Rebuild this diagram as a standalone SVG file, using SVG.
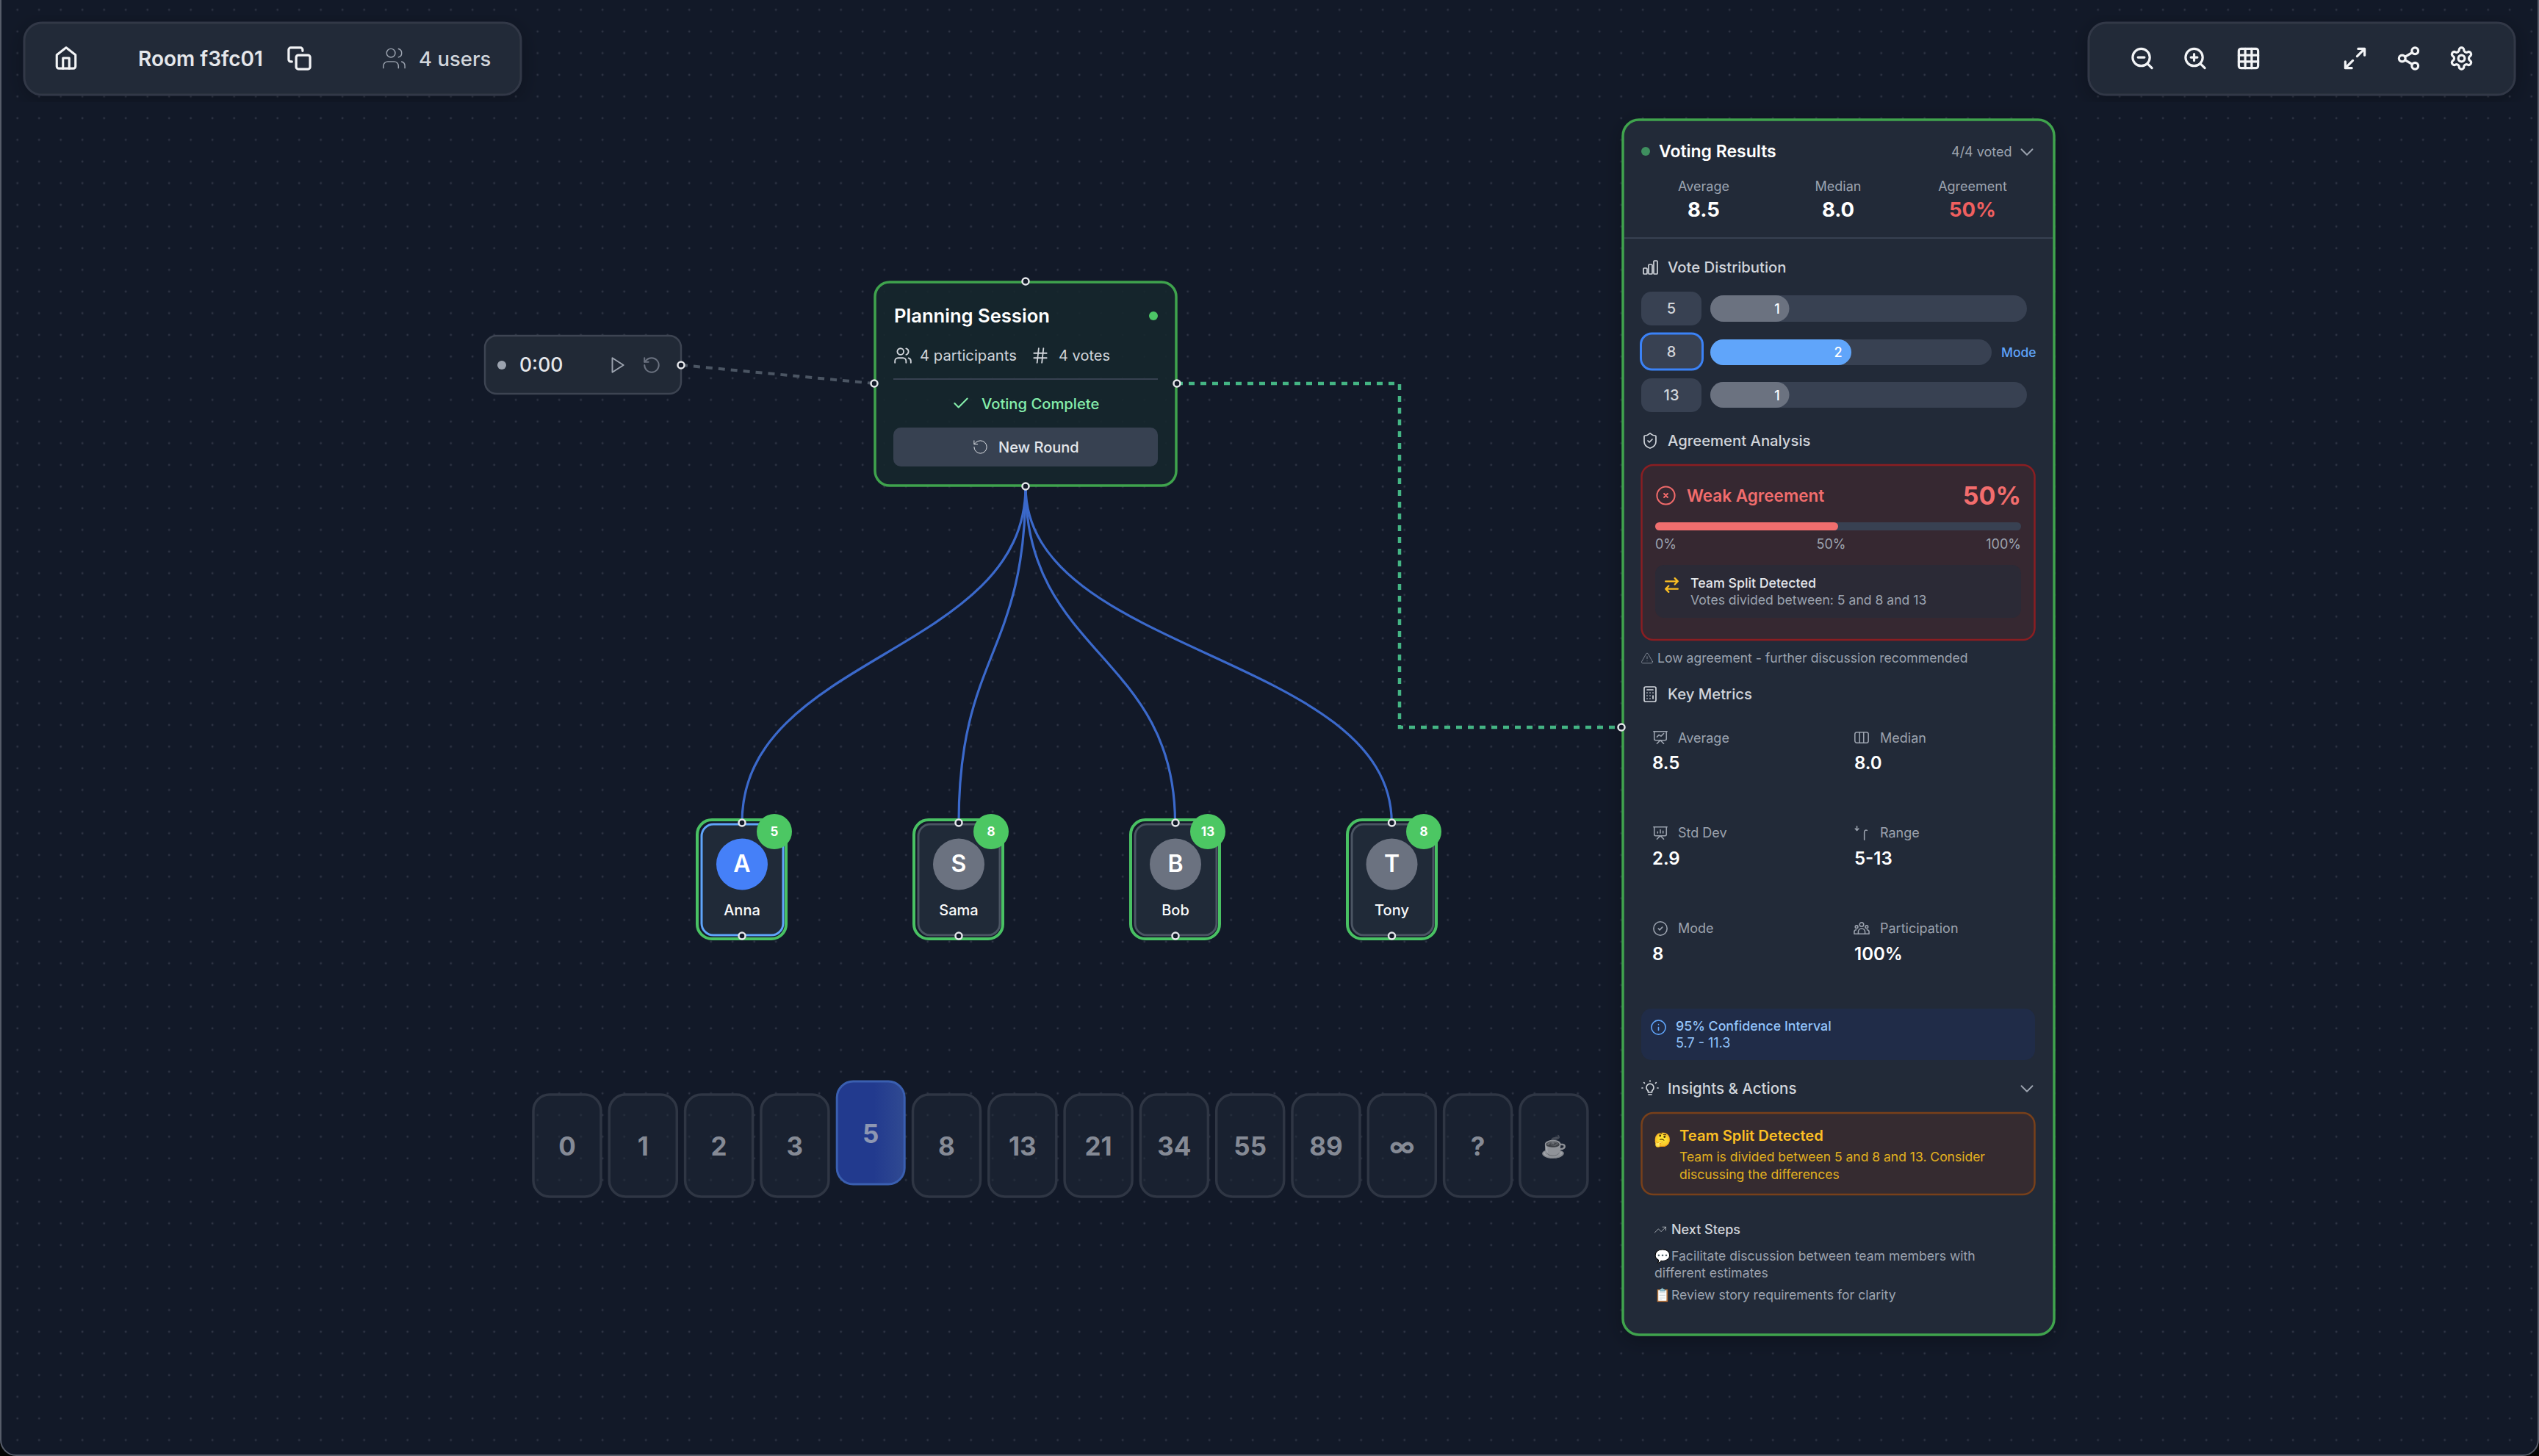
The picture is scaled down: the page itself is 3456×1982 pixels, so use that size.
<svg xmlns="http://www.w3.org/2000/svg" width="3456" height="1982" viewBox="0 0 3456 1982">
<defs>
<style>
text{font-family:Inter,"Liberation Sans",sans-serif;white-space:pre}
.ic{fill:none;stroke-linecap:round;stroke-linejoin:round}
.w{stroke:#f3f4f6;stroke-width:2.200}.g{stroke:#9ca3af}.l{stroke:#d1d5db}
.h{fill:#121928;stroke:#e5e7eb;stroke-width:2.500}
.bar{fill:#384152}
.lab{font-size:18px;fill:#9ca3af}
.lng{font-size:17.600px;fill:#9ca3af}
.sec{font-size:20.300px;font-weight:500;fill:#d1d5db}
.val{font-size:24px;font-weight:600;fill:#fff}
.card{fill:#1f2937;fill-opacity:.5;stroke:#2f3644;stroke-width:3.500}
.cardt{font-size:35px;font-weight:700;fill:#858a95;text-anchor:middle}
.pout{fill:#121928;stroke:#49c163;stroke-width:4}
.pin{fill:#202a38;stroke:#4b5563;stroke-width:3}
.pname{font-size:20px;font-weight:500;fill:#f9fafb;text-anchor:middle}
.pl{font-size:32px;font-weight:600;fill:#fff;text-anchor:middle}
.bd{font-size:17px;font-weight:700;fill:#fff;text-anchor:middle}
.blue{fill:none;stroke:#3b69cb;stroke-width:3.200}
</style>
<pattern id="dots" patternUnits="userSpaceOnUse" x="8.95" y="-1.35" width="29.5" height="29.5"><circle cx="14.75" cy="14.75" r="1.4" fill="#2e3444"/></pattern>
<filter id="sh" x="-10%" y="-10%" width="120%" height="120%"><feDropShadow dx="0" dy="6" stdDeviation="14" flood-color="#000" flood-opacity=".25"/></filter>
<linearGradient id="sel" x1="0" y1="0" x2="1" y2="0"><stop offset="0" stop-color="#223a8e"/><stop offset=".55" stop-color="#223a8e"/><stop offset="1" stop-color="#304a92"/></linearGradient>
<symbol id="home" viewBox="0 0 24 24"><path d="M3 9l9-7 9 7v11a2 2 0 0 1-2 2H5a2 2 0 0 1-2-2z"/><path d="M9 22V12h6v10"/></symbol>
<symbol id="copy" viewBox="0 0 24 24"><rect x="9" y="9" width="13" height="13" rx="2"/><path d="M5 15H4a2 2 0 0 1-2-2V4a2 2 0 0 1 2-2h9a2 2 0 0 1 2 2v1"/></symbol>
<symbol id="users" viewBox="0 0 24 24"><path d="M16 21v-2a4 4 0 0 0-4-4H6a4 4 0 0 0-4 4v2"/><circle cx="9" cy="7" r="4"/><path d="M22 21v-2a4 4 0 0 0-3-3.87"/><path d="M16 3.13a4 4 0 0 1 0 7.75"/></symbol>
<symbol id="zo" viewBox="0 0 24 24"><circle cx="11" cy="11" r="8"/><path d="M21 21l-4.35-4.35M8 11h6"/></symbol>
<symbol id="zi" viewBox="0 0 24 24"><circle cx="11" cy="11" r="8"/><path d="M21 21l-4.35-4.35M8 11h6M11 8v6"/></symbol>
<symbol id="grid" viewBox="0 0 24 24"><rect x="3" y="3" width="18" height="18" rx="2"/><path d="M3 9h18M3 15h18M9 3v18M15 3v18"/></symbol>
<symbol id="max" viewBox="0 0 24 24"><path d="M15 3h6v6M9 21H3v-6M21 3l-7 7M3 21l7-7"/></symbol>
<symbol id="share" viewBox="0 0 24 24"><circle cx="18" cy="5" r="3"/><circle cx="6" cy="12" r="3"/><circle cx="18" cy="19" r="3"/><path d="M8.59 13.51l6.83 3.98M15.41 6.51l-6.82 3.98"/></symbol>
<symbol id="gear" viewBox="0 0 24 24"><path d="M12.22 2h-.44a2 2 0 0 0-2 2v.18a2 2 0 0 1-1 1.73l-.43.25a2 2 0 0 1-2 0l-.15-.08a2 2 0 0 0-2.73.73l-.22.38a2 2 0 0 0 .73 2.73l.15.1a2 2 0 0 1 1 1.72v.51a2 2 0 0 1-1 1.74l-.15.09a2 2 0 0 0-.73 2.73l.22.38a2 2 0 0 0 2.73.73l.15-.08a2 2 0 0 1 2 0l.43.25a2 2 0 0 1 1 1.73V20a2 2 0 0 0 2 2h.44a2 2 0 0 0 2-2v-.18a2 2 0 0 1 1-1.73l.43-.25a2 2 0 0 1 2 0l.15.08a2 2 0 0 0 2.73-.73l.22-.39a2 2 0 0 0-.73-2.73l-.15-.08a2 2 0 0 1-1-1.74v-.5a2 2 0 0 1 1-1.74l.15-.09a2 2 0 0 0 .73-2.73l-.22-.38a2 2 0 0 0-2.73-.73l-.15.08a2 2 0 0 1-2 0l-.43-.25a2 2 0 0 1-1-1.73V4a2 2 0 0 0-2-2z"/><circle cx="12" cy="12" r="3"/></symbol>
<symbol id="play" viewBox="0 0 24 24"><path d="M6 3l14 9-14 9z"/></symbol>
<symbol id="reset" viewBox="0 0 24 24"><path d="M3 12a9 9 0 1 0 9-9 9.75 9.75 0 0 0-6.74 2.74L3 8"/><path d="M3 3v5h5"/></symbol>
<symbol id="hash" viewBox="0 0 24 24"><path d="M4 9h16M4 15h16M10 3L8 21M16 3l-2 18"/></symbol>
<symbol id="check" viewBox="0 0 24 24"><path d="M20 6L9 17l-5-5"/></symbol>
<symbol id="chev" viewBox="0 0 24 24"><path d="M6 9l6 6 6-6"/></symbol>
<symbol id="bars" viewBox="0 0 24 24"><rect x="3" y="13" width="5" height="8" rx="1"/><rect x="10" y="8" width="5" height="13" rx="1"/><rect x="17" y="3" width="5" height="18" rx="1"/></symbol>
<symbol id="shield" viewBox="0 0 24 24"><path d="M20 13c0 5-3.5 7.5-7.66 8.95a1 1 0 0 1-.67-.01C7.5 20.5 4 18 4 13V6a1 1 0 0 1 1-1c2 0 4.5-1.2 6.24-2.72a1.17 1.17 0 0 1 1.52 0C14.51 3.81 17 5 19 5a1 1 0 0 1 1 1z"/><path d="M9 12l2 2 4-4"/></symbol>
<symbol id="cx" viewBox="0 0 24 24"><circle cx="12" cy="12" r="10"/><path d="M14 10l-4 4M10 10l4 4"/></symbol>
<symbol id="swap" viewBox="0 0 24 24"><path d="M16 3l4 4-4 4M20 7H4M8 21l-4-4 4-4M4 17h16"/></symbol>
<symbol id="warn" viewBox="0 0 24 24"><path d="M21.73 18l-8-14a2 2 0 0 0-3.48 0l-8 14A2 2 0 0 0 4 21h16a2 2 0 0 0 1.73-3z"/><path d="M12 9v4M12 17h.01"/></symbol>
<symbol id="calc" viewBox="0 0 24 24"><rect x="4" y="2" width="16" height="20" rx="2"/><path d="M8 6h8M16 14v4M16 10h.01M12 10h.01M8 10h.01M12 14h.01M8 14h.01M12 18h.01M8 18h.01"/></symbol>
<symbol id="pres1" viewBox="0 0 24 24"><path d="M2 3h20M21 3v11a2 2 0 0 1-2 2H5a2 2 0 0 1-2-2V3M7 21l5-5 5 5M7 11l3-3 3 2 4-4"/></symbol>
<symbol id="pres2" viewBox="0 0 24 24"><path d="M2 3h20M21 3v11a2 2 0 0 1-2 2H5a2 2 0 0 1-2-2V3M7 21l5-5 5 5M8 12v-2M12 12V7M16 12V9"/></symbol>
<symbol id="cols" viewBox="0 0 24 24"><rect x="2" y="4" width="20" height="16" rx="3"/><path d="M9 4v16M15 4v16"/></symbol>
<symbol id="rng" viewBox="0 0 24 24"><path d="M5 2v6M2.500 5.500L5 8l2.500-2.500M20 8c-2-1-4 0-4 3v11"/></symbol>
<symbol id="cc" viewBox="0 0 24 24"><circle cx="12" cy="12" r="10"/><path d="M9 12l2 2 4-4"/></symbol>
<symbol id="group" viewBox="0 0 24 24"><circle cx="12" cy="6" r="3"/><circle cx="4.500" cy="9.500" r="2"/><circle cx="19.500" cy="9.500" r="2"/><path d="M7 20v-3a5 5 0 0 1 10 0v3M1 20v-3a3 3 0 0 1 3-3M23 20v-3a3 3 0 0 0-3-3M1 20h22"/></symbol>
<symbol id="info" viewBox="0 0 24 24"><circle cx="12" cy="12" r="10"/><path d="M12 16v-4M12 8h.01"/></symbol>
<symbol id="bulb" viewBox="0 0 24 24"><path d="M8.500 14a5 5 0 1 1 7 0c-.7.6-1 1.300-1 2v1h-5v-1c0-.7-.3-1.400-1-2zM10 20h4M12 2V1M4.500 4.500l-.8-.8M19.500 4.500l.8-.8M2 11H1M23 11h-1"/></symbol>
<symbol id="trend" viewBox="0 0 24 24"><path d="M22 7l-8.500 8.500-5-5L2 17M16 7h6v6"/></symbol>
</defs>

<rect width="3456" height="1982" fill="#030504"/>
<path d="M0 0H3456V1960a22 22 0 0 1-22 22H22a22 22 0 0 1-22-22Z" fill="#121928"/>
<rect width="3456" height="1982" fill="url(#dots)"/>
<path d="M1 0V1960a21 21 0 0 0 21 21H3434a21 21 0 0 0 21-21V0" fill="none" stroke="#565c69" stroke-width="2"/>

<g id="connectors">
<path id="edge-timer" d="M927 497L1190 522" fill="none" stroke="#4b5563" stroke-width="4" stroke-dasharray="9 8"/>
<path id="edge-results" d="M1602 522H1905V990H2207" fill="none" stroke="#44b584" stroke-width="4.500" stroke-dasharray="8 8"/>
<path id="edge-anna" class="blue" d="M1396 662C1396 891 1010 891 1010 1120"/>
<path id="edge-sama" class="blue" d="M1396 662C1396 891 1305 891 1305 1120"/>
<path id="edge-bob" class="blue" d="M1396 662C1396 891 1599.500 891 1599.500 1120"/>
<path id="edge-tony" class="blue" d="M1396 662C1396 891 1894.300 891 1894.300 1120"/>
</g>

<g id="room-bar">
<rect x="33" y="31" width="676" height="98" rx="24" fill="#222937" stroke="#313846" stroke-width="3" filter="url(#sh)"/>
<use href="#home" class="ic w" x="73" y="62" width="34" height="34"/>
<text x="188" y="90" font-size="28" font-weight="600" fill="#e5e7eb">Room f3fc01</text>
<use href="#copy" class="ic w" x="390" y="62" width="35" height="35"/>
<use href="#users" class="ic g" x="519" y="62" width="35" height="35"/>
<text x="570" y="90" font-size="27.500" font-weight="500" fill="#d1d5db">4 users</text>
</g>

<g id="toolbar">
<rect x="2843" y="31" width="580" height="98" rx="24" fill="#222937" stroke="#313846" stroke-width="3" filter="url(#sh)"/>
<use href="#zo" class="ic w" x="2898.500" y="62" width="35" height="35"/>
<use href="#zi" class="ic w" x="2970.500" y="62" width="35" height="35"/>
<use href="#grid" class="ic w" x="3043" y="62" width="35" height="35"/>
<use href="#max" class="ic w" x="3188" y="62" width="35" height="35"/>
<use href="#share" class="ic w" x="3261" y="62" width="35" height="35"/>
<use href="#gear" class="ic w" x="3333" y="62" width="35" height="35"/>
</g>

<g id="timer">
<rect x="660" y="457" width="267" height="79" rx="16" fill="#212936" stroke="#3d4452" stroke-width="2.500"/>
<circle cx="683" cy="497" r="6" fill="#9ca3af"/>
<text x="707" y="506" font-size="26.500" font-weight="500" fill="#e5e7eb">0:00</text>
<use href="#play" class="ic g" x="827" y="484" width="26" height="26" stroke-width="1.800"/>
<use href="#reset" class="ic" stroke="#6b7280" x="874" y="484" width="26" height="26" stroke-width="1.800"/>
<circle class="h" cx="927" cy="497" r="4.500"/>
</g>

<g id="planning-session">
<rect x="1191" y="384" width="410" height="277" rx="20" fill="#16272c" fill-opacity=".88" stroke="#3fa34d" stroke-width="3.500"/>
<text x="1217" y="439" font-size="25.600" font-weight="600" fill="#fff">Planning Session</text>
<circle cx="1570" cy="430" r="6" fill="#4cc766"/>
<use href="#users" class="ic l" x="1216" y="471" width="26" height="26" stroke-width="1.700"/>
<text x="1252" y="491" font-size="20.300" fill="#d1d5db">4 participants</text>
<use href="#hash" class="ic l" x="1403" y="471" width="26" height="26" stroke-width="1.700"/>
<text x="1441" y="491" font-size="20" fill="#d1d5db">4 votes</text>
<path d="M1216 516H1576" stroke="#374151" stroke-width="2"/>
<use href="#check" class="ic" stroke="#86efac" x="1295" y="536" width="26" height="26" stroke-width="1.900"/>
<text x="1336" y="557" font-size="20.200" font-weight="500" fill="#86efac">Voting Complete</text>
<rect x="1216" y="582" width="360" height="53" rx="10" fill="#374151"/>
<use href="#reset" class="ic" stroke="#e5e7eb" x="1323" y="597" width="23" height="23"/>
<text x="1359" y="616" font-size="20" font-weight="500" fill="#e5e7eb">New Round</text>
<circle class="h" cx="1396" cy="383" r="4.500"/><circle class="h" cx="1190" cy="522" r="4.500"/><circle class="h" cx="1602" cy="522" r="4.500"/><circle class="h" cx="1396" cy="662" r="4.500"/>
</g>

<g id="participant-anna">
<rect class="pout" x="949" y="1116" width="121" height="162" rx="20"/>
<rect class="pin" style="stroke:#60a5fa" x="955" y="1122" width="111" height="151" rx="16"/>
<circle cx="1010" cy="1176.500" r="35" fill="#4580f8"/>
<text class="pl" x="1010" y="1187">A</text>
<text class="pname" x="1010" y="1246">Anna</text>
<circle cx="1054" cy="1132" r="24" fill="#4cc763"/>
<text class="bd" x="1054" y="1138">5</text>
<circle class="h" cx="1010" cy="1120" r="4.500"/><circle class="h" cx="1010" cy="1274" r="4.500"/>
</g>
<g id="participant-sama">
<rect class="pout" x="1244" y="1116" width="121" height="162" rx="20"/>
<rect class="pin" x="1250" y="1122" width="111" height="151" rx="16"/>
<circle cx="1305" cy="1176.500" r="35" fill="#6b7280"/>
<text class="pl" x="1305" y="1187">S</text>
<text class="pname" x="1305" y="1246">Sama</text>
<circle cx="1349" cy="1132" r="24" fill="#4cc763"/>
<text class="bd" x="1349" y="1138">8</text>
<circle class="h" cx="1305" cy="1120" r="4.500"/><circle class="h" cx="1305" cy="1274" r="4.500"/>
</g>
<g id="participant-bob">
<rect class="pout" x="1539" y="1116" width="121" height="162" rx="20"/>
<rect class="pin" x="1545" y="1122" width="111" height="151" rx="16"/>
<circle cx="1600" cy="1176.500" r="35" fill="#6b7280"/>
<text class="pl" x="1600" y="1187">B</text>
<text class="pname" x="1600" y="1246">Bob</text>
<circle cx="1644" cy="1132" r="24" fill="#4cc763"/>
<text class="bd" x="1644" y="1138">13</text>
<circle class="h" cx="1600" cy="1120" r="4.500"/><circle class="h" cx="1600" cy="1274" r="4.500"/>
</g>
<g id="participant-tony">
<rect class="pout" x="1834" y="1116" width="121" height="162" rx="20"/>
<rect class="pin" x="1840" y="1122" width="111" height="151" rx="16"/>
<circle cx="1894.500" cy="1176.500" r="35" fill="#6b7280"/>
<text class="pl" x="1894.500" y="1187">T</text>
<text class="pname" x="1894.500" y="1246">Tony</text>
<circle cx="1938" cy="1132" r="24" fill="#4cc763"/>
<text class="bd" x="1938" y="1138">8</text>
<circle class="h" cx="1894.500" cy="1120" r="4.500"/><circle class="h" cx="1894.500" cy="1274" r="4.500"/>
</g>

<g id="vote-cards">
<rect class="card" x="726" y="1490" width="92" height="139" rx="22"/><text class="cardt" x="772" y="1573">0</text>
<rect class="card" x="829.300" y="1490" width="92" height="139" rx="22"/><text class="cardt" x="875.300" y="1573">1</text>
<rect class="card" x="932.600" y="1490" width="92" height="139" rx="22"/><text class="cardt" x="978.600" y="1573">2</text>
<rect class="card" x="1035.900" y="1490" width="92" height="139" rx="22"/><text class="cardt" x="1081.900" y="1573">3</text>
<rect x="1139.200" y="1472" width="92" height="140" rx="22" fill="url(#sel)" stroke="#3a5fb0" stroke-width="3"/><text class="cardt" style="fill:#8d97b2" x="1185.200" y="1556">5</text>
<rect class="card" x="1242.500" y="1490" width="92" height="139" rx="22"/><text class="cardt" x="1288.500" y="1573">8</text>
<rect class="card" x="1345.800" y="1490" width="92" height="139" rx="22"/><text class="cardt" x="1391.800" y="1573">13</text>
<rect class="card" x="1449.100" y="1490" width="92" height="139" rx="22"/><text class="cardt" x="1495.100" y="1573">21</text>
<rect class="card" x="1552.400" y="1490" width="92" height="139" rx="22"/><text class="cardt" x="1598.400" y="1573">34</text>
<rect class="card" x="1655.700" y="1490" width="92" height="139" rx="22"/><text class="cardt" x="1701.700" y="1573">55</text>
<rect class="card" x="1759" y="1490" width="92" height="139" rx="22"/><text class="cardt" x="1805" y="1573">89</text>
<rect class="card" x="1862.300" y="1490" width="92" height="139" rx="22"/><text class="cardt" x="1908.300" y="1573">∞</text>
<rect class="card" x="1965.600" y="1490" width="92" height="139" rx="22"/><text class="cardt" x="2011.600" y="1573">?</text>
<rect class="card" x="2068.900" y="1490" width="92" height="139" rx="22"/><text class="cardt" x="2114.900" y="1571" style="font-size:29px;filter:grayscale(1);opacity:.6">☕</text>
</g>

<g id="voting-results">
<rect x="2209" y="163" width="587" height="1654" rx="22" fill="#212a39" stroke="#3fa34d" stroke-width="3.500" filter="url(#sh)"/>
<circle cx="2240" cy="206" r="6" fill="#3f8f5f"/>
<text x="2258" y="214" font-size="23" font-weight="600" fill="#fff">Voting Results</text>
<text x="2656" y="213" font-size="18" fill="#9ca3af">4/4 voted</text>
<use href="#chev" class="ic g" x="2744" y="192" width="30" height="30" stroke-width="1.500"/>
<text class="lab" x="2319" y="260" text-anchor="middle">Average</text>
<text class="lab" x="2502" y="260" text-anchor="middle">Median</text>
<text class="lab" x="2685" y="260" text-anchor="middle">Agreement</text>
<text x="2319" y="295" font-size="27.500" font-weight="700" fill="#fff" text-anchor="middle">8.5</text>
<text x="2502" y="295" font-size="27.500" font-weight="700" fill="#fff" text-anchor="middle">8.0</text>
<text x="2685" y="295" font-size="27.500" font-weight="700" fill="#ef5f5f" text-anchor="middle">50%</text>
<path d="M2211 324H2794" stroke="#374151" stroke-width="2"/>

<use href="#bars" class="ic l" x="2234" y="352" width="24" height="24" stroke-width="1.700"/>
<text class="sec" x="2270" y="371">Vote Distribution</text>
<rect x="2234" y="397" width="82" height="46" rx="14" fill="#384152"/>
<text x="2275" y="427" font-size="20" font-weight="500" fill="#d1d5db" text-anchor="middle">5</text>
<rect class="bar" x="2328" y="402" width="431" height="36" rx="18"/>
<rect x="2328" y="402" width="107.500" height="36" rx="18" fill="#6b7280"/>
<text x="2419" y="427" font-size="18" font-weight="500" fill="#fff" text-anchor="middle">1</text>
<rect x="2233.500" y="454" width="84" height="49" rx="15" fill="#384152" stroke="#3b82f6" stroke-width="3"/>
<text x="2275" y="486" font-size="20" font-weight="500" fill="#d1d5db" text-anchor="middle">8</text>
<rect class="bar" x="2328" y="462" width="383" height="35" rx="17.500"/>
<rect x="2328" y="462" width="192" height="35" rx="17.500" fill="#60a5fa"/>
<text x="2502" y="486" font-size="18" font-weight="500" fill="#fff" text-anchor="middle">2</text>
<text x="2724" y="486" font-size="17.500" font-weight="500" fill="#60a5fa">Mode</text>
<rect x="2234" y="515" width="82" height="46" rx="14" fill="#384152"/>
<text x="2275" y="545" font-size="20" font-weight="500" fill="#d1d5db" text-anchor="middle">13</text>
<rect class="bar" x="2328" y="520" width="431" height="35" rx="17.500"/>
<rect x="2328" y="520" width="107.500" height="35" rx="17.500" fill="#6b7280"/>
<text x="2419" y="545" font-size="18" font-weight="500" fill="#fff" text-anchor="middle">1</text>

<use href="#shield" class="ic l" x="2234" y="588" width="24" height="24" stroke-width="1.700"/>
<text class="sec" x="2270" y="607">Agreement Analysis</text>
<rect x="2234.500" y="633" width="535" height="238" rx="16" fill="#362831" stroke="#8a1e22" stroke-width="2.500"/>
<use href="#cx" class="ic" stroke="#f06a6a" x="2253" y="660" width="29" height="29" stroke-width="1.700"/>
<text x="2296" y="683" font-size="22.500" font-weight="600" fill="#f26d6d">Weak Agreement</text>
<text x="2751" y="687" font-size="34" font-weight="700" fill="#f26d6d" text-anchor="end">50%</text>
<rect x="2253" y="711" width="498" height="11" rx="5.500" fill="#384152"/>
<rect x="2253" y="711" width="249" height="11" rx="5.500" fill="#f06e6e"/>
<text class="lab" x="2253" y="747">0%</text>
<text class="lab" x="2492.500" y="747" text-anchor="middle">50%</text>
<text class="lab" x="2751" y="747" text-anchor="end">100%</text>
<rect x="2253" y="769" width="498" height="72" rx="12" fill="#2b2a36"/>
<use href="#swap" class="ic" stroke="#fbbf24" x="2263" y="784" width="25" height="25" stroke-width="2.200"/>
<text x="2301" y="800" font-size="17.800" font-weight="500" fill="#e5e7eb">Team Split Detected</text>
<text class="lng" x="2301" y="823">Votes divided between: 5 and 8 and 13</text>
<use href="#warn" class="ic g" x="2233" y="887" width="18" height="18"/>
<text class="lng" x="2256" y="902">Low agreement - further discussion recommended</text>

<use href="#calc" class="ic l" x="2234" y="933" width="24" height="24" stroke-width="1.700"/>
<text class="sec" x="2270" y="952">Key Metrics</text>
<use href="#pres1" class="ic g" x="2249" y="993" width="22" height="22" stroke-width="1.700"/>
<text class="lab" x="2284" y="1011">Average</text>
<text class="val" x="2249" y="1047">8.5</text>
<use href="#cols" class="ic g" x="2523" y="993" width="22" height="22" stroke-width="1.700"/>
<text class="lab" x="2559" y="1011">Median</text>
<text class="val" x="2524" y="1047">8.0</text>
<use href="#pres2" class="ic g" x="2249" y="1123" width="22" height="22" stroke-width="1.700"/>
<text class="lab" x="2284" y="1140">Std Dev</text>
<text class="val" x="2249" y="1177">2.9</text>
<use href="#rng" class="ic g" x="2523" y="1123" width="22" height="22" stroke-width="1.700"/>
<text class="lab" x="2559" y="1140">Range</text>
<text class="val" x="2524" y="1177">5-13</text>
<use href="#cc" class="ic g" x="2249" y="1253" width="22" height="22" stroke-width="1.700"/>
<text class="lab" x="2284" y="1270">Mode</text>
<text class="val" x="2249" y="1307">8</text>
<use href="#group" class="ic g" x="2523" y="1253" width="22" height="22" stroke-width="1.700"/>
<text class="lab" x="2559" y="1270">Participation</text>
<text class="val" x="2524" y="1307">100%</text>

<rect x="2234" y="1373" width="536" height="70" rx="14" fill="#202c48"/>
<use href="#info" class="ic" stroke="#60a5fa" x="2246" y="1387" width="23" height="23" stroke-width="1.700"/>
<text x="2281" y="1403" font-size="17.800" font-weight="500" fill="#93c5fd">95% Confidence Interval</text>
<text x="2281" y="1426" font-size="18" fill="#93c5fd">5.7 - 11.3</text>

<use href="#bulb" class="ic l" x="2234" y="1470" width="24" height="24" stroke-width="1.700"/>
<text class="sec" style="font-size:20.500px" x="2270" y="1489">Insights &amp; Actions</text>
<use href="#chev" class="ic g" x="2744" y="1467" width="30" height="30" stroke-width="1.500"/>
<rect x="2234.500" y="1515" width="535" height="111" rx="16" fill="#352b30" stroke="#78401a" stroke-width="2.500"/>
<text x="2251" y="1558" font-size="19" fill="#fbbf24">🤔</text>
<text x="2286" y="1553" font-size="20.200" font-weight="600" fill="#fbbf24">Team Split Detected</text>
<text x="2286" y="1581" font-size="17.500" fill="#e3b21f">Team is divided between 5 and 8 and 13. Consider</text>
<text x="2286" y="1605" font-size="17.500" fill="#e3b21f">discussing the differences</text>
<use href="#trend" class="ic l" x="2251" y="1665" width="18" height="18"/>
<text x="2275" y="1680" font-size="18" font-weight="500" fill="#d1d5db">Next Steps</text>
<text class="lng" x="2252" y="1716">💬<tspan x="2275">Facilitate discussion between team members with</tspan></text>
<text class="lng" x="2252" y="1739">different estimates</text>
<text class="lng" x="2252" y="1769">📋<tspan x="2275">Review story requirements for clarity</tspan></text>
<circle class="h" cx="2207" cy="990" r="4.500"/>
</g>
</svg>
